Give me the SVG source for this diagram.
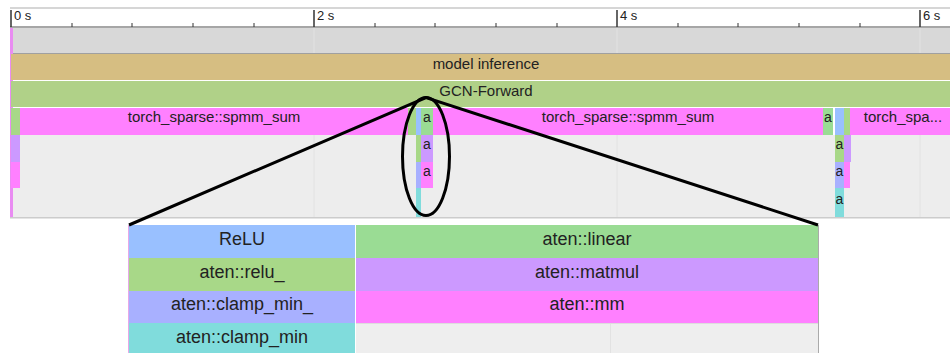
<svg xmlns="http://www.w3.org/2000/svg" width="950" height="353" viewBox="0 0 950 353">
<style>
text{font-family:"Liberation Sans",Arial,sans-serif;fill:#222;text-anchor:middle}
.t{font-size:15px}
.a{font-size:14px}
.p{font-size:18px}
.r{font-size:13px;text-anchor:start}
.mag{fill:#ff80ff}.grn{fill:#9adc94}.lgr{fill:#a8d888}.pur{fill:#cc99ff}.blu{fill:#99c0ff}.vio{fill:#a8b0ff}.cya{fill:#80dcdc}
.tick{stroke:#333;stroke-width:1.5}
.grid{stroke:#e2e2e2;stroke-width:1}
.conn{stroke:#000;stroke-width:3;fill:none}
</style>
<rect x="0" y="0" width="950" height="353" fill="#fff"/>
<g id="ruler">
<rect x="10" y="7" width="940" height="2" fill="#d6d6d6"/>
<rect x="10" y="26" width="940" height="2" fill="#a6a6a6"/>
<line class="tick" x1="11" y1="10" x2="11" y2="27"/>
<line class="tick" x1="314" y1="10" x2="314" y2="27"/>
<line class="tick" x1="617" y1="10" x2="617" y2="27"/>
<line class="tick" x1="920" y1="10" x2="920" y2="27"/>
<g stroke="#333" stroke-width="1">
<line x1="72" y1="23" x2="72" y2="27"/><line x1="132" y1="23" x2="132" y2="27"/><line x1="193" y1="23" x2="193" y2="27"/><line x1="254" y1="23" x2="254" y2="27"/>
<line x1="375" y1="23" x2="375" y2="27"/><line x1="435" y1="23" x2="435" y2="27"/><line x1="496" y1="23" x2="496" y2="27"/><line x1="557" y1="23" x2="557" y2="27"/>
<line x1="678" y1="23" x2="678" y2="27"/><line x1="738" y1="23" x2="738" y2="27"/><line x1="799" y1="23" x2="799" y2="27"/><line x1="860" y1="23" x2="860" y2="27"/>
</g>
<text class="r" x="14" y="20">0 s</text>
<text class="r" x="317" y="20">2 s</text>
<text class="r" x="620" y="20">4 s</text>
<text class="r" x="923" y="20">6 s</text>
</g>
<g id="background">
<rect x="10" y="28" width="940" height="25" fill="#d8d8d8"/>
<rect x="10" y="53" width="940" height="1" fill="#a0a0a0"/>
<rect x="10" y="135" width="940" height="82" fill="#ededed"/>
<rect x="10" y="217" width="940" height="1.5" fill="#cccccc"/>
<line class="grid" x1="314" y1="28" x2="314" y2="53"/>
<line class="grid" x1="617" y1="28" x2="617" y2="53"/>
<line class="grid" x1="920" y1="28" x2="920" y2="53"/>
<line class="grid" x1="314" y1="135" x2="314" y2="217"/>
<line class="grid" x1="617" y1="135" x2="617" y2="217"/>
<line class="grid" x1="920" y1="135" x2="920" y2="217"/>
<rect x="10" y="28" width="3" height="189" fill="#e98cf2"/>
</g>
<g id="model-inference">
<rect x="11" y="54" width="939" height="26" fill="#d6be82"/>
<text class="t" x="486" y="69">model inference</text>
</g>
<g id="gcn-forward">
<rect x="11" y="81" width="939" height="26" fill="#b0d188"/>
<text class="t" x="486" y="95.5">GCN-Forward</text>
</g>
<g id="left-stack">
<rect class="lgr" x="11" y="108" width="9" height="27"/>
<rect class="pur" x="11" y="135" width="9" height="27"/>
<rect class="mag" x="11" y="162" width="9" height="26"/>
</g>
<g id="spmm-1">
<rect class="mag" x="20" y="108" width="388" height="27"/>
<text class="t" x="214" y="122">torch_sparse::spmm_sum</text>
</g>
<g id="cluster-1">
<rect class="lgr" x="408" y="108" width="8" height="27"/>
<rect class="blu" x="416" y="108" width="5" height="27"/>
<rect class="grn" x="421" y="108" width="12" height="27"/>
<text class="a" x="427" y="122">a</text>
<rect class="lgr" x="416" y="135" width="5" height="27"/>
<rect class="pur" x="421" y="135" width="12" height="27"/>
<text class="a" x="427" y="149">a</text>
<rect class="vio" x="416" y="162" width="5" height="26"/>
<rect class="mag" x="421" y="162" width="12" height="26"/>
<text class="a" x="427" y="176">a</text>
<rect class="cya" x="416" y="188" width="5" height="29"/>
</g>
<g id="spmm-2">
<rect class="mag" x="433" y="108" width="390" height="27"/>
<text class="t" x="628" y="122">torch_sparse::spmm_sum</text>
</g>
<g id="cluster-2">
<rect class="grn" x="823" y="108" width="10" height="27"/>
<text class="a" x="828" y="122">a</text>
<rect class="blu" x="835" y="108" width="9" height="27"/>
<rect class="lgr" x="844" y="108" width="6" height="27"/>
<rect class="lgr" x="835" y="135" width="9" height="27"/>
<text class="a" x="839.5" y="149">a</text>
<rect class="pur" x="844" y="135" width="7" height="27"/>
<rect class="vio" x="835" y="162" width="9" height="26"/>
<text class="a" x="839.5" y="176">a</text>
<rect class="mag" x="844" y="162" width="6" height="26"/>
<rect class="cya" x="835" y="188" width="9" height="29"/>
<text class="a" x="839.5" y="204">a</text>
</g>
<g id="spmm-3">
<rect class="mag" x="850" y="108" width="100" height="27"/>
<text class="t" x="903" y="122">torch_spa...</text>
</g>
<g id="zoom-panel">
<rect class="blu" x="129" y="225" width="226" height="33"/>
<text class="p" x="242" y="245">ReLU</text>
<rect class="lgr" x="129" y="258" width="226" height="33"/>
<text class="p" x="242" y="277.5">aten::relu_</text>
<rect class="vio" x="129" y="291" width="226" height="32"/>
<text class="p" x="242" y="310">aten::clamp_min_</text>
<rect class="cya" x="129" y="323" width="226" height="30"/>
<text class="p" x="242" y="343">aten::clamp_min</text>
<rect class="grn" x="356" y="225" width="462" height="33"/>
<text class="p" x="587" y="245">aten::linear</text>
<rect class="pur" x="356" y="258" width="462" height="33"/>
<text class="p" x="587" y="277.5">aten::matmul</text>
<rect class="mag" x="356" y="291" width="462" height="32"/>
<text class="p" x="587" y="310">aten::mm</text>
<rect x="356" y="323" width="462" height="30" fill="#eeeeee"/>
<line x1="356" y1="323.5" x2="818" y2="323.5" stroke="#dddddd"/>
<line class="grid" x1="610.5" y1="324" x2="610.5" y2="353"/>
<line x1="818.5" y1="225" x2="818.5" y2="353" stroke="#aaaaaa"/>
<line x1="128.5" y1="225" x2="128.5" y2="353" stroke="#e8a8e8"/>
</g>
<g id="connectors">
<ellipse class="conn" cx="426" cy="156.5" rx="23.5" ry="59"/>
<polyline class="conn" points="129,225 426,97.5 818,225"/>
</g>
</svg>
